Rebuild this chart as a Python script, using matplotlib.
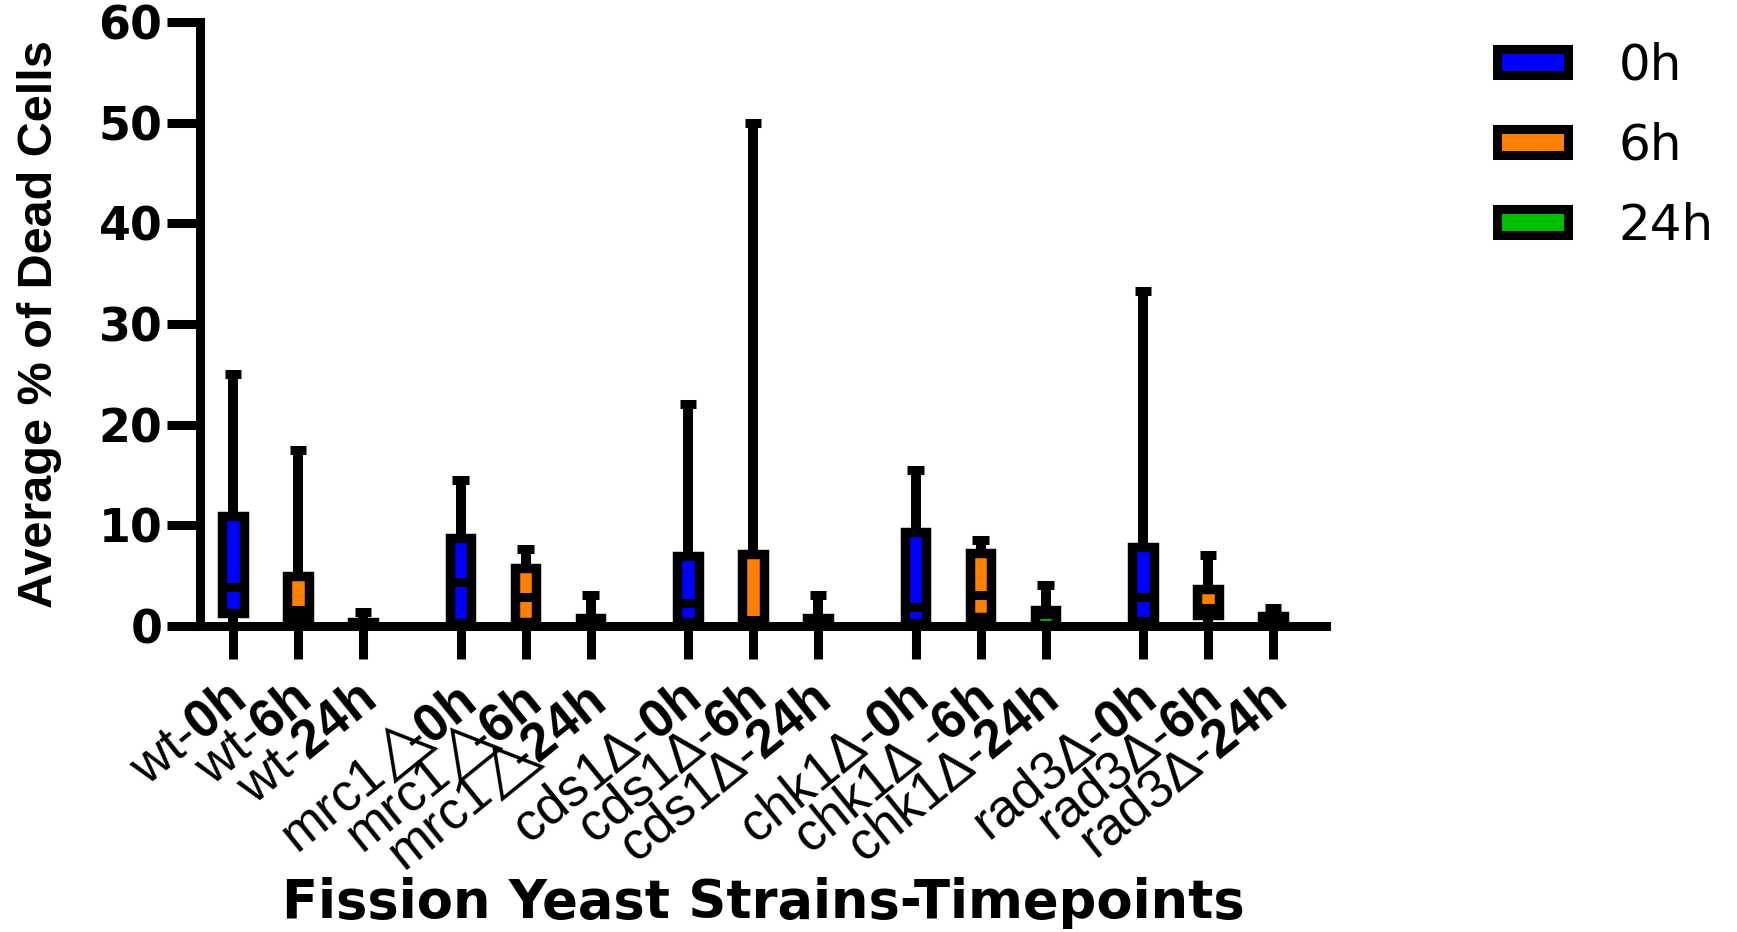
import matplotlib
matplotlib.use("Agg")
import matplotlib.pyplot as plt
from matplotlib.patches import Patch
from matplotlib.transforms import ScaledTranslation

# ---- data ----
strains = ["wt", "mrc1", "cds1", "chk1", "rad3"]
timepoints = ["0h", "6h", "24h"]
series_colors = ["#0000ff", "#ff8000", "#00c000"]

tick_labels = [
    r"wt-$\mathbf{0h}$", r"wt-$\mathbf{6h}$", r"wt-$\mathbf{24h}$",
    r"mrc1$\!\triangle\!\!\!\!$-$\mathbf{0h}$", r"mrc1$\!\triangle\!\!\!\!$-$\mathbf{6h}$",
    r"mrc1$\!\triangle\!\!\!\!$-$\mathbf{24h}$",
    r"cds1Δ-$\mathbf{0h}$", r"cds1Δ-$\mathbf{6h}$", r"cds1Δ-$\mathbf{24h}$",
    r"chk1Δ-$\mathbf{0h}$", r"chk1Δ -$\mathbf{6h}$", r"chk1Δ-$\mathbf{24h}$",
    r"rad3Δ-$\mathbf{0h}$", r"rad3Δ-$\mathbf{6h}$", r"rad3Δ-$\mathbf{24h}$",
]

# box statistics, ordered strain by strain (0h, 6h, 24h)
q1 = [1.25, 0.9, 0.05, 0.3, 0.4, 0.1, 0.4, 0.2, 0.1, 0.3, 0.9, 0.1, 0.5, 1.05, 0.1]
median = [3.9, 1.6, 0.2, 4.4, 2.9, 0.5, 2.3, 0.6, 0.5, 1.9, 3.05, 1.2, 2.9, 1.8, 0.4]
q3 = [10.9, 5.0, 0.4, 8.75, 5.75, 0.8, 7.0, 7.2, 0.8, 9.3, 7.25, 1.6, 7.8, 3.7, 0.95]
minimum = [0.0] * 15
maximum = [25.0, 17.5, 1.4, 14.5, 7.6, 3.1, 22.1, 50.0, 3.1, 15.5, 8.5, 4.1, 33.3, 7.05, 1.8]

plt.rcParams["font.family"] = ["Liberation Sans", "DejaVu Sans"]
plt.rcParams["mathtext.fontset"] = "custom"
plt.rcParams["mathtext.rm"] = "Liberation Sans"
plt.rcParams["mathtext.bf"] = "Liberation Sans:bold"
plt.rcParams["mathtext.fallback"] = "stixsans"

fig = plt.figure(figsize=(17.37, 9.32), dpi=100)
ax = fig.add_axes([200 / 1737, 306 / 932, 1126 / 1737, 604 / 932])

# 3 boxes per strain, half a slot gap between strains
positions = [g * 3.5 + t for g in range(len(strains)) for t in range(len(timepoints))]

stats = []
for i in range(len(positions)):
    stats.append(dict(med=median[i], q1=q1[i], q3=q3[i],
                      whislo=minimum[i], whishi=maximum[i], fliers=[]))

bp = ax.bxp(stats, positions=positions, widths=0.33, patch_artist=True,
            showfliers=False, capwidths=0.25,
            boxprops=dict(linewidth=6.8, edgecolor="black"),
            whiskerprops=dict(linewidth=7.2, color="black", solid_capstyle="butt"),
            capprops=dict(linewidth=6.5, color="black", solid_capstyle="butt"),
            medianprops=dict(linewidth=6.5, color="black", solid_capstyle="butt"))
for i, box in enumerate(bp["boxes"]):
    box.set_facecolor(series_colors[i % 3])

ax.set_xlim(-0.508, 16.815)
ax.set_ylim(0, 60)
ax.set_yticks([0, 10, 20, 30, 40, 50, 60])

for side in ["top", "right"]:
    ax.spines[side].set_visible(False)
for side in ["left", "bottom"]:
    ax.spines[side].set_linewidth(6.5)

ax.tick_params(axis="both", width=6.5, length=24, direction="out")
ax.tick_params(axis="y", pad=3)
for lab in ax.get_yticklabels():
    lab.set_fontfamily("DejaVu Sans")
    lab.set_fontweight("bold")
    lab.set_fontsize(33)

ax.set_xticks(positions)
ax.set_xticklabels(tick_labels, rotation=39, ha="right", va="top",
                   rotation_mode="anchor", fontsize=38)
offset = ScaledTranslation(-7 / 72, -7 / 72, fig.dpi_scale_trans)
for lab in ax.get_xticklabels():
    lab.set_transform(lab.get_transform() + offset)

ax.set_ylabel("Average % of Dead Cells", fontsize=35, fontweight="bold")
ax.yaxis.set_label_coords(-0.123, 0.5)
ax.set_xlabel("Fission Yeast Strains-Timepoints", fontsize=38, fontweight="bold",
              fontfamily="DejaVu Sans")
ax.xaxis.set_label_coords(0.5, -0.4834)
ax.xaxis.label.set_va("baseline")

handles = [Patch(facecolor=c, edgecolor="black", linewidth=6.5) for c in series_colors]
fig.legend(handles, timepoints, loc="upper left", bbox_to_anchor=(0.862, 0.955),
           frameon=False, prop=dict(family="DejaVu Sans", size=36),
           handlelength=1.42, handleheight=0.44,
           handletextpad=1.0, labelspacing=0.64, borderpad=0, borderaxespad=0)

fig.savefig("out.png", dpi=100)
